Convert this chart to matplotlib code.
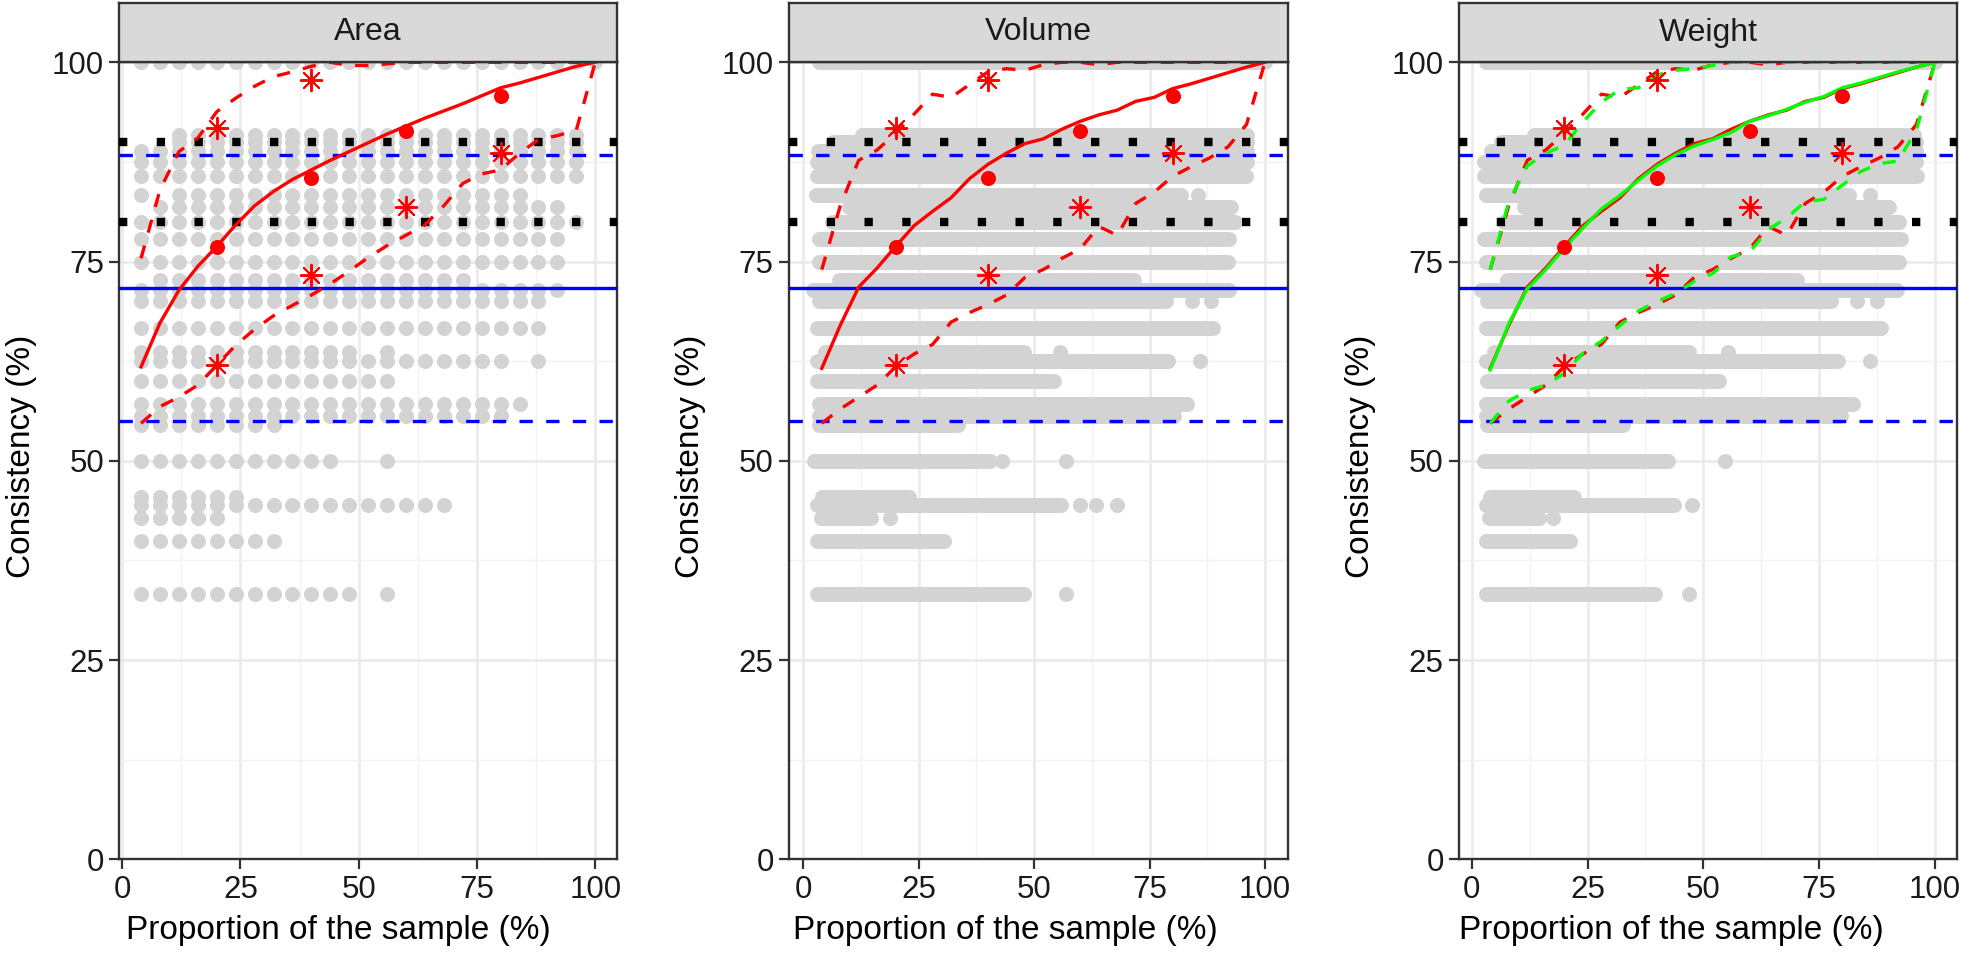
import matplotlib
matplotlib.use("Agg")
import matplotlib.pyplot as plt
from matplotlib import font_manager
import numpy as np

# ---------------- data ----------------
sample_pct = [4, 8, 12, 16, 20, 24, 28, 32, 36, 40, 44, 48, 52,
              56, 60, 64, 68, 72, 76, 80, 84, 88, 92, 96, 100]

area_mid = [61.8, 67.3, 71.4, 74.4, 76.9, 79.6, 82.0, 83.8, 85.3, 86.5, 87.7, 88.8, 89.9,
            91.0, 92.0, 93.0, 93.9, 94.8, 95.8, 96.8, 97.4, 98.1, 98.8, 99.5, 100]
area_low = [54.7, 56.8, 58.0, 59.5, 62.0, 64.5, 66.5, 68.2, 69.5, 70.8, 72.2, 73.8, 75.5,
            77.0, 78.3, 79.6, 82.0, 84.8, 86.0, 86.5, 88.6, 90.3, 90.8, 91.5, 100]
area_high = [75.4, 84.0, 88.8, 90.5, 93.8, 95.5, 97.0, 98.2, 98.8, 99.5, 100, 99.6, 99.6,
             99.8, 100, 100, 100, 100, 100, 100, 100, 100, 100, 100, 100]

volume_mid = [61.6, 67.0, 71.8, 74.2, 76.9, 79.5, 81.3, 83.0, 85.4, 87.2, 88.6, 89.8, 90.4,
              91.6, 92.6, 93.4, 94.0, 95.1, 95.6, 96.7, 97.3, 98.0, 98.7, 99.4, 100]
volume_low = [54.7, 56.5, 58.0, 59.5, 61.8, 63.4, 64.6, 67.4, 68.6, 69.6, 70.8, 73.0, 74.0,
              75.4, 76.6, 79.4, 78.3, 82.3, 83.7, 85.7, 86.9, 88.0, 89.4, 92.2, 100]
volume_high = [74.0, 82.0, 87.7, 89.0, 91.1, 93.5, 96.0, 95.6, 97.2, 98.8, 99.2, 99.0, 99.7,
               100, 100, 99.7, 100, 100, 100, 100, 100, 100, 100, 100, 100]

weight_mid = [61.4, 67.2, 71.6, 74.0, 76.7, 79.2, 81.6, 83.3, 85.2, 87.0, 88.4, 89.5, 90.3,
              91.2, 92.6, 93.3, 94.1, 95.0, 95.7, 96.8, 97.4, 98.1, 98.8, 99.4, 100]
weight_low = [54.7, 57.5, 58.8, 59.5, 61.0, 63.5, 65.0, 67.0, 68.8, 70.0, 71.0, 72.5, 73.5,
              75.6, 76.2, 79.0, 80.5, 82.5, 82.8, 84.6, 86.3, 87.3, 87.6, 91.5, 100]
weight_high = [74.0, 82.5, 87.0, 88.6, 89.6, 92.5, 95.0, 96.6, 96.8, 98.4, 99.0, 99.2, 99.6,
               100, 100, 100, 100, 100, 100, 100, 100, 100, 100, 100, 100]

ref_x = [20, 40, 60, 80]
ref_y = [76.8, 85.5, 91.4, 95.8]
ref_star_x = [20, 20, 40, 40, 60, 80]
ref_star_y = [91.8, 62.0, 97.8, 73.3, 81.8, 88.6]

blue_mean = 71.7
blue_limits = [55.05, 88.35]
black_limits = [80, 90]

# Area: consistency level, first and last sample proportion with a point
area_levels = [100, 90.91, 90, 88.89, 87.5, 85.71, 83.33, 81.82, 80, 77.78, 75, 72.73,
               71.43, 70, 66.67, 63.64, 62.5, 60, 57.14, 55.56, 54.55, 50, 45.45,
               44.44, 42.86, 40, 33.33]
area_first = [4, 12, 12, 4, 4, 4, 12, 8, 4, 4, 4, 8, 4, 4, 4, 4, 4, 4, 4, 4, 4, 4, 4, 4, 4, 4, 4]
area_last = [100, 96, 96, 96, 96, 96, 84, 92, 96, 92, 92, 72, 92, 88, 88, 48, 80, 56, 84,
             80, 32, 44, 24, 68, 20, 32, 48]
area_extra_x = [4, 56, 88, 56, 56]
area_extra_y = [83.33, 63.64, 62.5, 50, 33.33]

# Volume / Weight: consistency level, range of sample proportion covered
volume_levels = [100, 90.91, 90, 88.89, 87.5, 85.71, 83.33, 81.82, 80, 77.78, 75, 72.73,
                 71.43, 70, 66.67, 63.64, 62.5, 60, 57.14, 55.56, 54.55, 50, 45.45,
                 44.44, 42.86, 40, 33.33]
volume_from = [3.4, 12.8, 6.5, 3.2, 3.0, 3.0, 2.7, 9.9, 6.3, 3.4, 3.4, 7.7, 2.0, 3.4, 3.0,
               4.8, 3.0, 3.0, 3.4, 3.4, 3.4, 2.3, 4.0, 3.0, 3.8, 3.0, 3.0]
volume_to = [100, 96.0, 96.0, 96.0, 96.0, 95.9, 81.8, 92.6, 93.4, 92.3, 92.0, 71.7, 92.3,
             78.5, 88.7, 47.9, 78.9, 54.4, 83.2, 80.4, 33.4, 40.5, 23.0, 55.8, 14.6, 30.5, 47.9]
volume_extra_x = [85.6, 84.1, 88.4, 55.6, 85.9, 43.0, 57.0, 60.0, 63.5, 67.9, 18.8, 57.0]
volume_extra_y = [83.33, 70, 70, 63.64, 62.5, 50, 50, 44.44, 44.44, 44.44, 42.86, 33.33]

weight_levels = volume_levels
weight_from = [3.0, 13.5, 6.3, 4.1, 2.7, 2.7, 3.0, 11.3, 7.0, 2.7, 3.0, 7.7, 2.0, 3.4, 3.0,
               4.8, 3.0, 3.4, 3.0, 3.0, 3.4, 2.7, 4.0, 3.0, 3.8, 3.0, 3.0]
weight_to = [100, 95.5, 95.9, 95.9, 95.9, 96.2, 81.5, 90.1, 92.3, 92.6, 92.3, 70.3, 91.9,
             77.5, 88.3, 47.0, 79.0, 53.4, 82.2, 79.7, 32.6, 42.3, 22.0, 43.7, 14.6, 21.2, 39.5]
weight_extra_x = [86.0, 83.1, 87.4, 55.4, 86.0, 54.7, 47.5, 17.5, 47.0]
weight_extra_y = [83.33, 70, 70, 63.64, 62.5, 50, 44.44, 42.86, 33.33]

panel_titles = ['Area', 'Volume', 'Weight']
xlabel = 'Proportion of the sample (%)'
ylabel = 'Consistency (%)'


def pick_font():
    names = {f.name for f in font_manager.fontManager.ttflist}
    for n in ['Liberation Sans Narrow', 'Arial Narrow', 'Liberation Sans']:
        if n in names:
            return n
    return 'DejaVu Sans'


FONT = pick_font()
NARROW = 'Narrow' in FONT
plt.rcParams['font.family'] = [FONT, 'DejaVu Sans']
TICK_FS = 21.8 if NARROW else 22.5
STRIP_FS = 21.8 if NARROW else 23
TITLE_FS = 29 if NARROW else 24

W, H = 1961, 956
fig = plt.figure(figsize=(W / 100, H / 100), dpi=100)

# pixel layout of the three panels: (left, width, xmin, xmax, x-title centre)
panels = [(119.3, 497.7, -0.6, 104.6, 338),
          (789.0, 498.6, -3.1, 104.9, 1005),
          (1459.0, 498.0, -2.74, 104.75, 1671)]
top_px, bot_px = 62.3, 859.3
strip_top = 2.7

GRAY = '#D3D3D3'
DARK = '#333333'
DOT_S = 117
ASTER = (8, 2, 0)


def setup(ax, xmin, xmax):
    ax.set_xlim(xmin, xmax)
    ax.set_ylim(0, 100)
    ax.set_xticks([0, 25, 50, 75, 100])
    ax.set_yticks([0, 25, 50, 75, 100])
    ax.set_xticks([12.5, 37.5, 62.5, 87.5], minor=True)
    ax.set_yticks([12.5, 37.5, 62.5, 87.5], minor=True)
    ax.grid(which='major', color='#EBEBEB', lw=1.9, zorder=0)
    ax.grid(which='minor', color='#F2F2F2', lw=1.0, zorder=0)
    ax.set_axisbelow(True)
    ax.tick_params(which='major', length=7, width=1.6, color=DARK, labelsize=TICK_FS,
                   labelcolor='#1A1A1A', pad=4)
    ax.tick_params(which='minor', length=0)
    for s in ax.spines.values():
        s.set_color(DARK)
        s.set_linewidth(1.7)


def band(ax, mid, low, high, color, z):
    ax.plot(sample_pct, mid, color=color, lw=2.4, zorder=z)
    ax.plot(sample_pct, low, color=color, lw=2.4, ls=(0, (4, 4)), zorder=z)
    ax.plot(sample_pct, high, color=color, lw=2.4, ls=(0, (4, 4)), zorder=z)


for i, (left, width, xmin, xmax, xt) in enumerate(panels):
    ax = fig.add_axes([left / W, 1 - bot_px / H, width / W, (bot_px - top_px) / H])
    setup(ax, xmin, xmax)

    # grey cloud
    if i == 0:
        px, py = [], []
        for lev, a, b in zip(area_levels, area_first, area_last):
            for x in sample_pct:
                if a <= x <= b:
                    px.append(x)
                    py.append(lev)
        ax.scatter(px + area_extra_x, py + area_extra_y, s=DOT_S, color=GRAY,
                   linewidths=0, zorder=2)
    else:
        levels, x0, x1, ex, ey = ((volume_levels, volume_from, volume_to, volume_extra_x, volume_extra_y)
                                  if i == 1 else
                                  (weight_levels, weight_from, weight_to, weight_extra_x, weight_extra_y))
        lc = ax.hlines(levels, x0, x1, colors=GRAY, lw=10.8, zorder=2)
        lc.set_capstyle('round')
        ax.scatter(ex, ey, s=DOT_S, color=GRAY, linewidths=0, zorder=2)

    # reference lines
    for yv in black_limits:
        ax.axhline(yv, color='black', lw=6.0, ls=(0, (1, 3.53)), zorder=3)
    ax.axhline(blue_mean, color='#0000FF', lw=2.4, zorder=3)
    for yv in blue_limits:
        ax.axhline(yv, color='#0000FF', lw=2.4, ls=(0, (4, 4)), zorder=3)

    # bands
    if i == 0:
        band(ax, area_mid, area_low, area_high, '#FF0000', 4)
    else:
        band(ax, volume_mid, volume_low, volume_high, '#FF0000', 4)
    if i == 2:
        band(ax, weight_mid, weight_low, weight_high, '#00FF00', 5)

    ax.scatter(ref_x, ref_y, s=DOT_S, color='#FF0000', linewidths=0, zorder=6)
    ax.scatter(ref_star_x, ref_star_y, s=240, marker=ASTER, color='#FF0000',
               linewidths=1.4, zorder=6)

    # strip
    sax = fig.add_axes([left / W, 1 - top_px / H, width / W, (top_px - strip_top) / H])
    sax.set_facecolor('#D9D9D9')
    sax.set_xticks([])
    sax.set_yticks([])
    for s in sax.spines.values():
        s.set_color(DARK)
        s.set_linewidth(1.7)
    sax.text(0.5, 0.5, panel_titles[i], ha='center', va='center', fontsize=STRIP_FS,
             color='#1A1A1A', transform=sax.transAxes)

    # axis titles
    fig.text((left - 98) / W, 1 - 456 / H, ylabel, rotation=90, ha='center',
             va='center', fontsize=TITLE_FS)
    fig.text(xt / W, 1 - 931 / H, xlabel, ha='center', va='center', fontsize=TITLE_FS)

fig.savefig('out.png', dpi=100)
